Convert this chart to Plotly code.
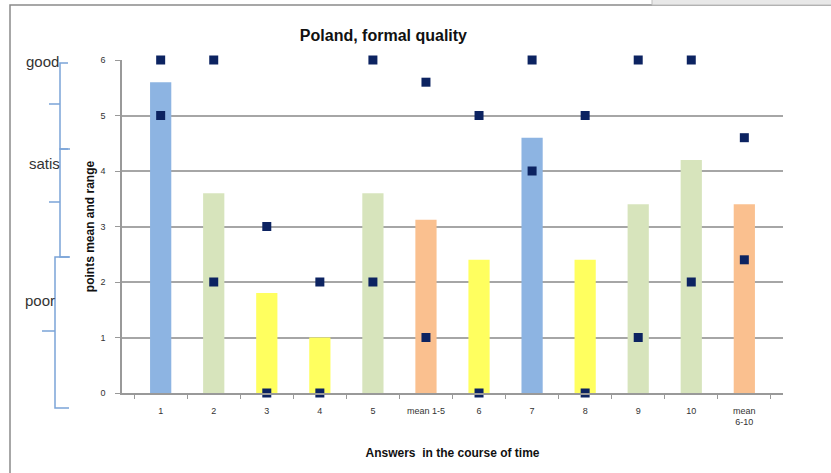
import plotly.graph_objects as go

# Answers over time with their mean score and the observed range (max / min)
categories = ["1", "2", "3", "4", "5", "mean 1-5", "6", "7", "8", "9", "10", "mean<br>6-10"]
mean_points = [5.6, 3.6, 1.8, 1.0, 3.6, 3.12, 2.4, 4.6, 2.4, 3.4, 4.2, 3.4]
max_points = [6, 6, 3, 2, 6, 5.6, 5, 6, 5, 6, 6, 4.6]
min_points = [5, 2, 0, 0, 2, 1.0, 0, 4, 0, 1, 2, 2.4]
y_ticks = [0, 1, 2, 3, 4, 5, 6]
quality_labels = ["good", "satis", "poor"]

BLUE, GREEN, YELLOW, ORANGE = "#8db4e2", "#d7e4bc", "#ffff5f", "#fac08f"


def bar_color(v, label):
    if label.startswith("mean"):
        return ORANGE
    if v >= 4.5:
        return BLUE
    if v >= 3:
        return GREEN
    return YELLOW


bar_colors = [bar_color(v, c) for v, c in zip(mean_points, categories)]

W, H = 831, 473
L, R, T, B = 122, 48, 60, 80
PW, PH = W - L - R, H - T - B


def px(x):
    return (x - L) / PW


def py(y):
    return (H - B - y) / PH


fig = go.Figure()
fig.add_trace(go.Bar(x=categories, y=mean_points, marker=dict(color=bar_colors, line=dict(width=0)),
                     width=0.4, showlegend=False))
marker_style = dict(symbol="square", size=9, color="#0c2361")
fig.add_trace(go.Scatter(x=categories, y=max_points, mode="markers", marker=marker_style,
                         showlegend=False, cliponaxis=False))
fig.add_trace(go.Scatter(x=categories, y=min_points, mode="markers", marker=marker_style,
                         showlegend=False, cliponaxis=False))

shapes = []
# outer frame and the grey strip at the top right
shapes.append(dict(type="rect", xref="paper", yref="paper", x0=px(10), x1=px(840), y0=py(5), y1=py(480),
                   line=dict(color="#8a8a8a", width=1.5), layer="below"))
shapes.append(dict(type="rect", xref="paper", yref="paper", x0=px(652), x1=px(840), y0=py(-5), y1=py(5),
                   fillcolor="#e8e8e8", line=dict(color="#bdbdbd", width=1), layer="below"))

# curly braces next to the quality labels
brace_color = "#7ba4d8"
braces = [
    (60, 63, 149, 104, 49, 68),
    (60, 149, 257, 202, 49, 70),
    (55, 257, 408, 331, 42, 69),
]
for xv, y0, y1, yc, xc, xh in braces:
    path = (f"M {px(xh)},{py(y0)} L {px(xv)},{py(y0)} L {px(xv)},{py(y1)} L {px(xh)},{py(y1)} "
            f"M {px(xv)},{py(yc)} L {px(xc)},{py(yc)}")
    shapes.append(dict(type="path", xref="paper", yref="paper", path=path,
                       line=dict(color=brace_color, width=1.5)))

annotations = []
for label, (x, y) in zip(quality_labels, [(42, 62), (44, 163), (40, 300)]):
    annotations.append(dict(text=label, xref="paper", yref="paper", x=px(x), y=py(y),
                            showarrow=False, xanchor="center", yanchor="middle",
                            font=dict(family="Liberation Sans", size=15, color="#333333")))

fig.update_layout(
    width=W, height=H,
    margin=dict(l=L, r=R, t=T, b=B),
    paper_bgcolor="white", plot_bgcolor="white",
    font=dict(family="Liberation Sans", color="#222222"),
    title=dict(text="<b>Poland, formal quality</b>", x=px(427), xanchor="center", y=1 - 35 / H,
               yanchor="middle", font=dict(size=16, color="#111111")),
    bargap=0.6,
    shapes=shapes,
    annotations=annotations,
    xaxis=dict(type="category", showgrid=False, showline=True, linecolor="#999999", linewidth=1.5,
               ticks="outside", tickson="boundaries", ticklen=4, tickcolor="#999999",
               ticklabelstandoff=8, automargin=False,
               tickfont=dict(size=9, color="#333333"),
               title=dict(text="<b>Answers  in the course of time</b>", standoff=22,
                          font=dict(size=12, color="#111111"))),
    yaxis=dict(range=[0, 6], tickvals=y_ticks, showgrid=True, gridcolor="#a6a6a6", gridwidth=1.5,
               showline=True, linecolor="#999999", linewidth=1.5, zeroline=False,
               ticks="outside", ticklen=5, tickcolor="#999999",
               ticklabelstandoff=8, automargin=False,
               tickfont=dict(size=9, color="#333333"),
               title=dict(text="<b>points mean and range</b>", standoff=3,
                          font=dict(size=12, color="#111111"))),
)

fig.write_html("out.html")
